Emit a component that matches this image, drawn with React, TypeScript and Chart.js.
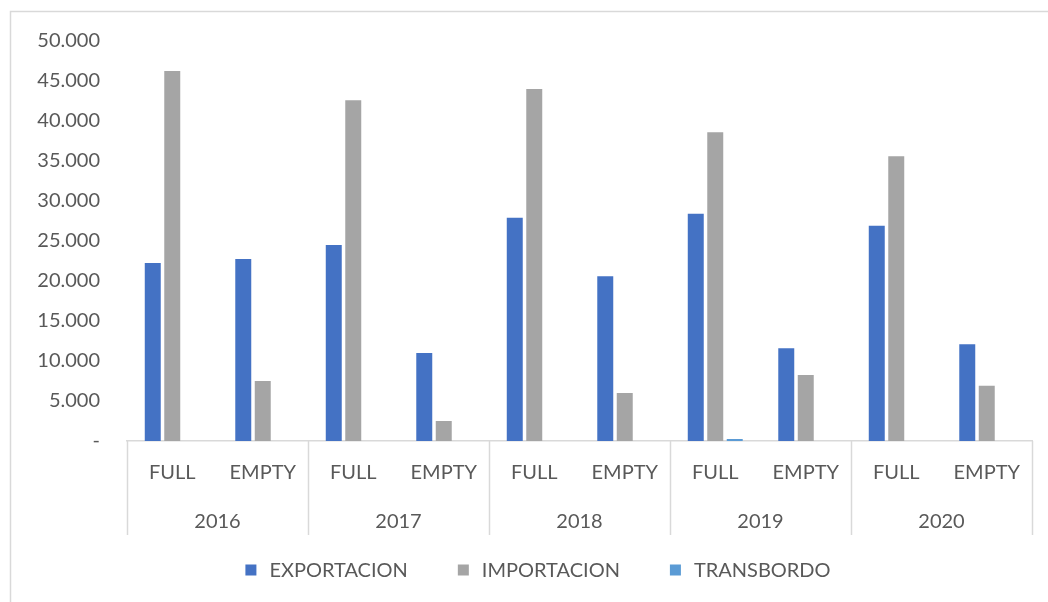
import React, { useEffect, useRef } from "react";
import { Chart, registerables } from "chart.js";

Chart.register(...registerables);

const CATEGORIES = ["FULL", "EMPTY", "FULL", "EMPTY", "FULL", "EMPTY", "FULL", "EMPTY", "FULL", "EMPTY"];
const YEARS = ["2016", "2017", "2018", "2019", "2020"];
const EXPORTACION = [22250, 22750, 24500, 11000, 27900, 20600, 28400, 11600, 26900, 12100];
const IMPORTACION = [46250, 7500, 42600, 2500, 44000, 6000, 38600, 8250, 35600, 6900];
const TRANSBORDO = [0, 0, 0, 0, 0, 0, 250, 0, 0, 0];
const SERIES_NAMES = ["EXPORTACION", "IMPORTACION", "TRANSBORDO"];
const SERIES_COLORS = ["#4472C4", "#A5A5A5", "#5B9BD5"];

const FONT_FAMILY = "Lato, 'Open Sans', sans-serif";
const TEXT_COLOR = "#595959";
const LINE_COLOR = "#D9D9D9";

function fmt(v: number): string {
  if (v === 0) return "-";
  return String(v).replace(/\B(?=(\d{3})+(?!\d))/g, ".");
}

const decorPlugin = {
  id: "decor",
  beforeDraw(chart: any) {
    const ctx = chart.ctx;
    ctx.save();
    ctx.strokeStyle = LINE_COLOR;
    ctx.lineWidth = 1.5;
    ctx.strokeRect(10.5, 11.5, chart.width + 20, chart.height + 20);
    ctx.restore();
  },
  afterDraw(chart: any) {
    const ctx = chart.ctx;
    const x = chart.scales.x;
    const area = chart.chartArea;
    const n = CATEGORIES.length;
    const per = n / YEARS.length;
    const bottom = area.bottom + 94;
    ctx.save();
    ctx.strokeStyle = LINE_COLOR;
    ctx.lineWidth = 1.5;
    // group separators
    for (let g = 0; g <= YEARS.length; g++) {
      let px: number;
      if (g === 0) px = x.left;
      else if (g === YEARS.length) px = x.right;
      else {
        const a = x.getPixelForValue(g * per - 1);
        const b = x.getPixelForValue(g * per);
        px = (a + b) / 2;
      }
      px = Math.round(px) + 0.5;
      ctx.beginPath();
      ctx.moveTo(px, area.bottom);
      ctx.lineTo(px, bottom);
      ctx.stroke();
    }
    // year labels
    ctx.fillStyle = TEXT_COLOR;
    ctx.font = `20px ${FONT_FAMILY}`;
    ctx.textAlign = "center";
    ctx.textBaseline = "middle";
    for (let g = 0; g < YEARS.length; g++) {
      const a = x.getPixelForValue(g * per);
      const b = x.getPixelForValue(g * per + per - 1);
      ctx.fillText(YEARS[g], (a + b) / 2, area.bottom + 81);
    }
    // legend
    const datasets = chart.data.datasets;
    const box = 11;
    const gapText = 13;
    const spacing = 50;
    const widths = datasets.map((d: any) => ctx.measureText(d.label).width);
    const total = widths.reduce((s: number, w: number) => s + box + gapText + w, 0) + spacing * (datasets.length - 1);
    let lx = 538 - total / 2;
    const ly = 570;
    ctx.textAlign = "left";
    datasets.forEach((d: any, i: number) => {
      ctx.fillStyle = d.backgroundColor;
      ctx.fillRect(lx, ly - box / 2, box, box);
      ctx.fillStyle = TEXT_COLOR;
      ctx.fillText(d.label, lx + box + gapText, ly + 1);
      lx += box + gapText + widths[i] + spacing;
    });
    ctx.restore();
  },
};

export default function App() {
  const ref = useRef<HTMLCanvasElement | null>(null);
  useEffect(() => {
    if (!ref.current) return;
    const seriesData = [EXPORTACION, IMPORTACION, TRANSBORDO];
    const chart = new Chart(ref.current, {
      type: "bar",
      data: {
        labels: CATEGORIES,
        datasets: SERIES_NAMES.map((name, i) => ({
          label: name,
          data: seriesData[i],
          backgroundColor: SERIES_COLORS[i],
          borderWidth: 0,
          categoryPercentage: 0.646,
          barPercentage: 0.82,
        })),
      },
      options: {
        responsive: false,
        animation: false,
        layout: { padding: { top: 41, left: 10, right: 16, bottom: 67 } },
        plugins: {
          legend: { display: false },
          tooltip: { enabled: false },
        },
        scales: {
          x: {
            grid: { display: false, drawTicks: false },
            border: { display: true, color: LINE_COLOR, width: 1.5 },
            ticks: {
              color: TEXT_COLOR,
              font: { family: FONT_FAMILY, size: 20 },
              padding: 20,
              maxRotation: 0,
              autoSkip: false,
            },
            afterFit: (s: any) => {
              s.height = 94;
            },
          },
          y: {
            min: 0,
            max: 50000,
            grid: { display: false, drawTicks: false },
            border: { display: false },
            ticks: {
              stepSize: 5000,
              color: TEXT_COLOR,
              font: { family: FONT_FAMILY, size: 20 },
              padding: 27,
              callback: (v: any) => fmt(Number(v)),
            },
            afterFit: (s: any) => {
              s.width = 117;
            },
          },
        },
      },
      plugins: [decorPlugin],
    });
    if ((document as any).fonts && (document as any).fonts.ready) {
      (document as any).fonts.ready.then(() => chart.update());
    }
    return () => chart.destroy();
  }, []);
  return (
    <div style={{ position: "fixed", left: 0, top: 0, width: 1048, height: 602, background: "#fff" }}>
      <canvas ref={ref} width={1048} height={602} style={{ display: "block" }} />
    </div>
  );
}
